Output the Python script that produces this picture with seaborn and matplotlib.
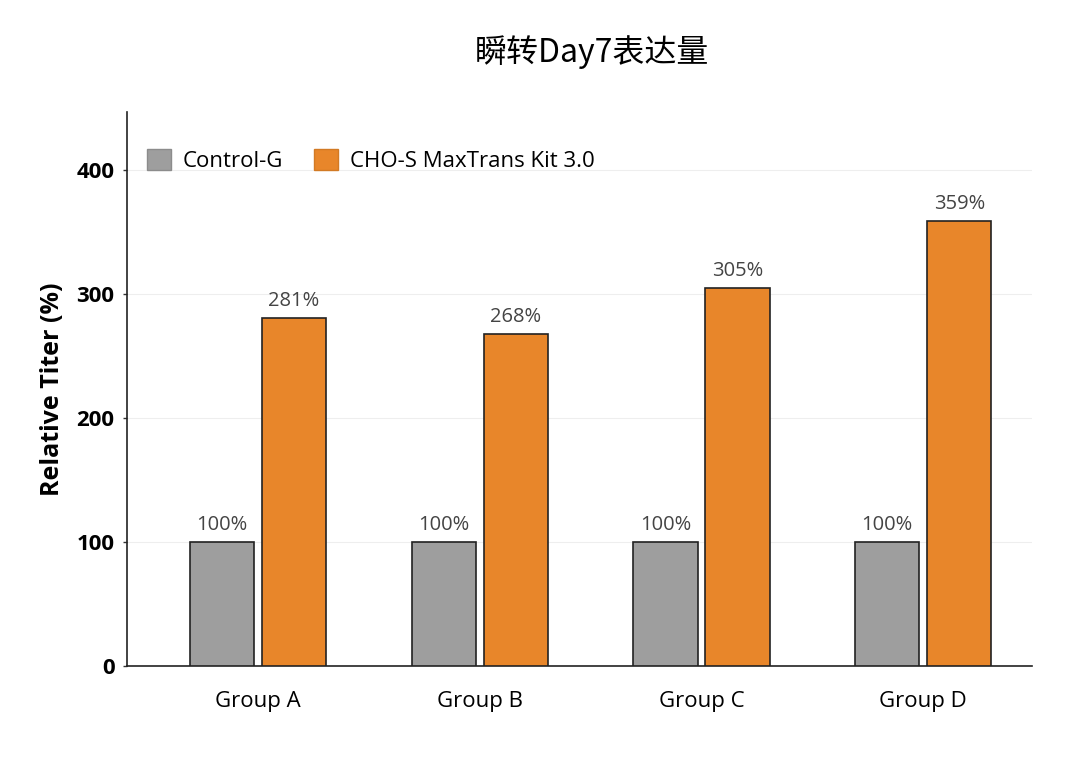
import pandas as pd
import seaborn as sns
import matplotlib.pyplot as plt

# Data
groups = ["Group A", "Group B", "Group C", "Group D"]
series_names = ["Control-G", "CHO-S MaxTrans Kit 3.0"]
control_vals = [100, 100, 100, 100]
kit_vals = [281, 268, 305, 359]
title = "瞬转Day7表达量"

df = pd.DataFrame({
    "Group": groups * 2,
    "Series": [series_names[0]] * len(groups) + [series_names[1]] * len(groups),
    "Titer": control_vals + kit_vals,
})

sns.set_theme(style="white")
plt.rcParams['font.family'] = ['Open Sans', 'Noto Sans CJK SC', 'DejaVu Sans']
plt.rcParams['text.color'] = 'black'
plt.rcParams['xtick.color'] = 'black'
plt.rcParams['ytick.color'] = 'black'
plt.rcParams['axes.labelcolor'] = 'black'

fig = plt.figure(figsize=(10.8, 7.62), dpi=100)
ax = fig.add_axes([127 / 1080, 1 - 666 / 762, (1032 - 127) / 1080, (666 - 112) / 762])

palette = {series_names[0]: "#9e9e9e", series_names[1]: "#e8862a"}
sns.barplot(data=df, x="Group", y="Titer", hue="Series", palette=palette,
            width=0.65, gap=0.11, edgecolor="#222222", linewidth=1.2,
            saturation=1, ax=ax, zorder=3)

# value labels
for cont in ax.containers:
    ax.bar_label(cont, labels=[f"{v:.0f}%" for v in cont.datavalues],
                 padding=5, fontsize=14.5, color="#444444")

ax.set_ylim(0, 447)
ax.set_xlim(-0.59, 3.49)
ax.set_yticks([0, 100, 200, 300, 400])
ax.yaxis.grid(True, color="#eeeeee", linewidth=0.8, zorder=0)
ax.set_axisbelow(True)
ax.tick_params(axis="y", left=True, length=3, width=1, color="#333333", labelsize=16, pad=6)
ax.tick_params(axis="x", bottom=False, labelsize=16, pad=12)
for lab in ax.get_yticklabels():
    lab.set_fontweight("bold")
ax.set_xlabel("")
ax.set_ylabel("Relative Titer (%)", fontsize=18, fontweight="bold", labelpad=8)

sns.despine(ax=ax)
for side in ["left", "bottom"]:
    ax.spines[side].set_color("#222222")
    ax.spines[side].set_linewidth(1.2)

leg = ax.legend(loc="upper left", bbox_to_anchor=(0.0, 0.97), ncol=2, frameon=False,
                fontsize=16, handlelength=1.1, handleheight=1.1, columnspacing=1.4,
                handletextpad=0.5)
for h, ec in zip(leg.legend_handles, ["#8c8c8c", "#d27a24"]):
    h.set_edgecolor(ec)
    h.set_linewidth(1.0)

fig.text(592 / 1080, 1 - 52 / 762, title, ha="center", va="center",
         fontsize=23, family=['Noto Sans CJK SC', 'DejaVu Sans'], fontweight="medium")

fig.savefig("out.png", dpi=100)
